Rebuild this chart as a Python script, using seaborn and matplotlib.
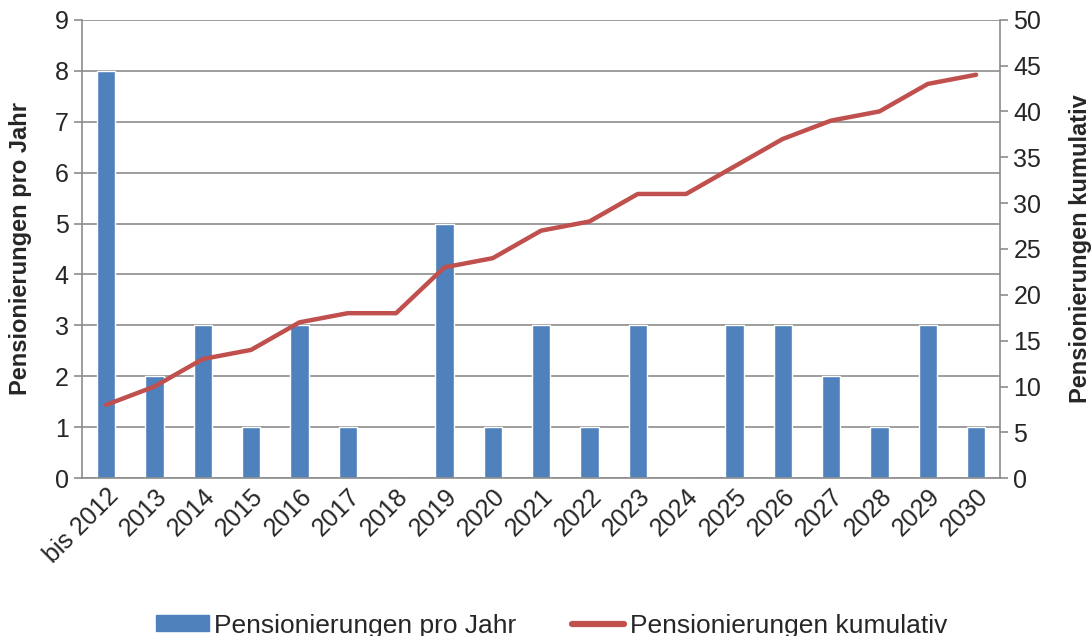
import pandas as pd
import matplotlib.pyplot as plt
import seaborn as sns
from matplotlib.lines import Line2D
from matplotlib.patches import Patch

# Data
jahre = ['bis 2012', '2013', '2014', '2015', '2016', '2017', '2018', '2019', '2020',
         '2021', '2022', '2023', '2024', '2025', '2026', '2027', '2028', '2029', '2030']
pro_jahr = [8, 2, 3, 1, 3, 1, 0, 5, 1, 3, 1, 3, 0, 3, 3, 2, 1, 3, 1]
kumulativ = [8, 10, 13, 14, 17, 18, 18, 23, 24, 27, 28, 31, 31, 34, 37, 39, 40, 43, 44]

df = pd.DataFrame({'Jahr': jahre, 'pro Jahr': pro_jahr, 'kumulativ': kumulativ})
df['pos'] = range(len(df))

sns.set_style('white')
plt.rcParams['font.family'] = ['Liberation Sans', 'DejaVu Sans']

blue = '#4F81BD'
red = '#C0504D'
grey = '#8C8C8C'
fs = 18

fig = plt.figure(figsize=(10.92, 6.36), dpi=100)
ax = fig.add_axes([0.075, 0.248, 0.841, 0.721])

sns.barplot(data=df, x='Jahr', y='pro Jahr', color=blue, width=0.38,
            saturation=1, ax=ax, zorder=2)
ax.set_ylim(0, 9)
ax.set_yticks(range(0, 10))
ax.set_xlim(-0.5, len(jahre) - 0.5)
ax.grid(axis='y', color=grey, linewidth=1.2, zorder=0)
ax.set_axisbelow(True)
ax.set_ylabel('Pensionierungen pro Jahr', fontsize=17, fontweight='bold', labelpad=16)
ax.set_xlabel('')

# category boundary ticks like Excel
ax.set_xticks([i - 0.5 for i in range(len(jahre) + 1)], minor=True)
ax.tick_params(axis='x', which='major', length=0, labelsize=fs, pad=4)
ax.tick_params(axis='x', which='minor', length=6, color=grey, width=1.2, direction='out')
ax.tick_params(axis='y', length=6, color=grey, width=1.2, labelsize=fs, direction='out')
plt.setp(ax.get_xticklabels(), rotation=45, ha='right', rotation_mode='anchor')

for s in ['top', 'right']:
    ax.spines[s].set_visible(False)
for s in ['left', 'bottom']:
    ax.spines[s].set_color(grey)
    ax.spines[s].set_linewidth(1.2)

ax2 = ax.twinx()
sns.lineplot(data=df, x='pos', y='kumulativ', color=red, linewidth=3.2, ax=ax2,
             solid_capstyle='round')
ax2.set_ylim(0, 50)
ax2.set_yticks(range(0, 51, 5))
ax2.set_xlim(-0.5, len(jahre) - 0.5)
ax2.set_ylabel('Pensionierungen kumulativ', fontsize=17, fontweight='bold', labelpad=20)
ax2.set_xlabel('')
ax2.tick_params(axis='y', length=6, color=grey, width=1.2, labelsize=fs, direction='out')
for s in ['top', 'left', 'bottom']:
    ax2.spines[s].set_visible(False)
ax2.spines['right'].set_color(grey)
ax2.spines['right'].set_linewidth(1.2)

handles = [Patch(facecolor=blue, edgecolor=blue), Line2D([], [], color=red, linewidth=4.5)]
fig.legend(handles, ['Pensionierungen pro Jahr', 'Pensionierungen kumulativ'],
           loc='lower center', bbox_to_anchor=(0.505, -0.04), ncol=2, frameon=False,
           fontsize=19, handlelength=2.0, handleheight=0.55, handletextpad=0.2,
           columnspacing=2.1)

fig.savefig('out.png', dpi=100)
